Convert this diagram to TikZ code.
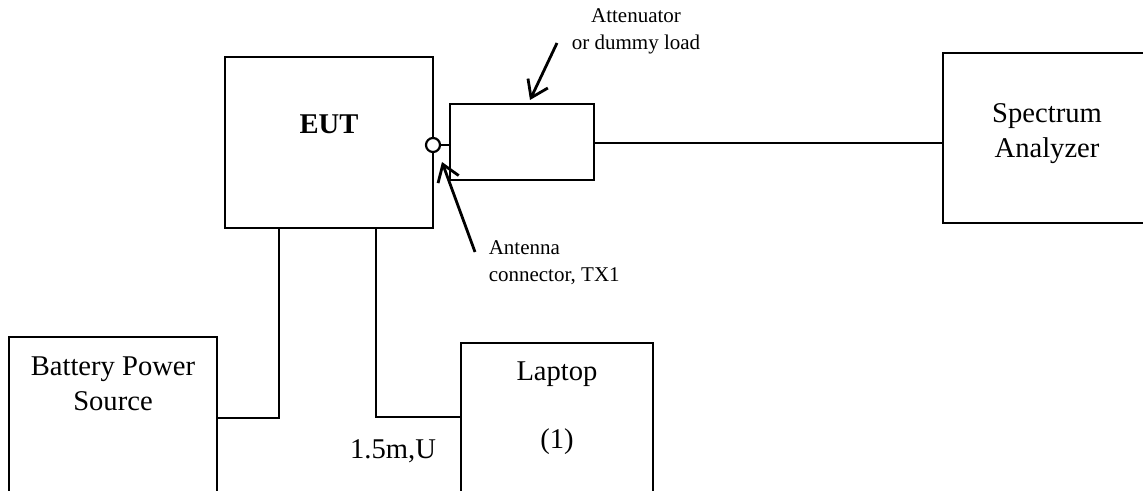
\documentclass[tikz,border=0pt]{standalone}
\usepackage{fontspec}
\setmainfont{Liberation Serif}
\usetikzlibrary{arrows.meta}
\begin{document}
\begin{tikzpicture}[x=0.5pt, y=-0.5pt, line width=1.1pt,
  box/.style={draw, rectangle, inner sep=0pt},
  big/.style={font=\fontsize{14.3}{17.5}\selectfont, align=center},
  small/.style={font=\fontsize{10.5}{13.5}\selectfont},
  pointer/.style={->, line width=1.4pt},
  >={Straight Barb[length=8pt, width=11pt]}]
  \useasboundingbox (0,0) rectangle (1143,491);
  \clip (0,0) rectangle (1143,491);

  % boxes
  \node[box, minimum width=104pt, minimum height=85.5pt] (eut) at (329,142.5) {};
  \node[box, minimum width=72pt, minimum height=38pt] (att) at (522,142) {};
  \node[box, minimum width=104pt, minimum height=85pt] (sa) at (1047,138) {};
  \node[box, minimum width=104pt, minimum height=85pt] (bat) at (113,422) {};
  \node[box, minimum width=96pt, minimum height=85pt] (lap) at (557,428) {};
  \node[draw, circle, fill=white, minimum size=7pt, inner sep=0pt] (ant) at (433,145) {};

  % texts
  \node[big, font=\fontsize{14.3}{17.5}\selectfont\bfseries] (eutlbl) at (329,124) {EUT};
  \node[big] (salbl) at (1047,134) {Spectrum\\Analyzer};
  \node[big] (batlbl) at (113,384) {Battery Power\\Source};
  \node[big] (laplbl) at (557,374) {Laptop};
  \node[big] (lapnum) at (557,442) {(1)};
  \node[big] (cable) at (393,451) {1.5m,U};
  \node[small, align=center] (attlbl) at (636,31) {Attenuator\\or dummy load};
  \node[small, align=left, anchor=west] (antlbl) at (481,263) {Antenna\\connector, TX1};

  % connections
  \draw (ant.east) -- (att.west |- ant);
  \draw (att.east |- 0,143) -- (sa.west |- 0,143);
  \coordinate (pwr) at (279,418);
  \coordinate (usb) at (376,417);
  \draw (eut.south -| pwr) -- (pwr) -- (bat.east |- pwr);
  \draw (eut.south -| usb) -- (usb) -- (lap.west |- usb);

  % pointers
  \coordinate (attTail) at (557,43);
  \coordinate (attTip) at (530,100);
  \coordinate (antTail) at (475,252);
  \coordinate (antTip) at (442,162);
  \draw[pointer] (attTail) -- (attTip);
  \draw[pointer] (antTail) -- (antTip);
\end{tikzpicture}
\end{document}
